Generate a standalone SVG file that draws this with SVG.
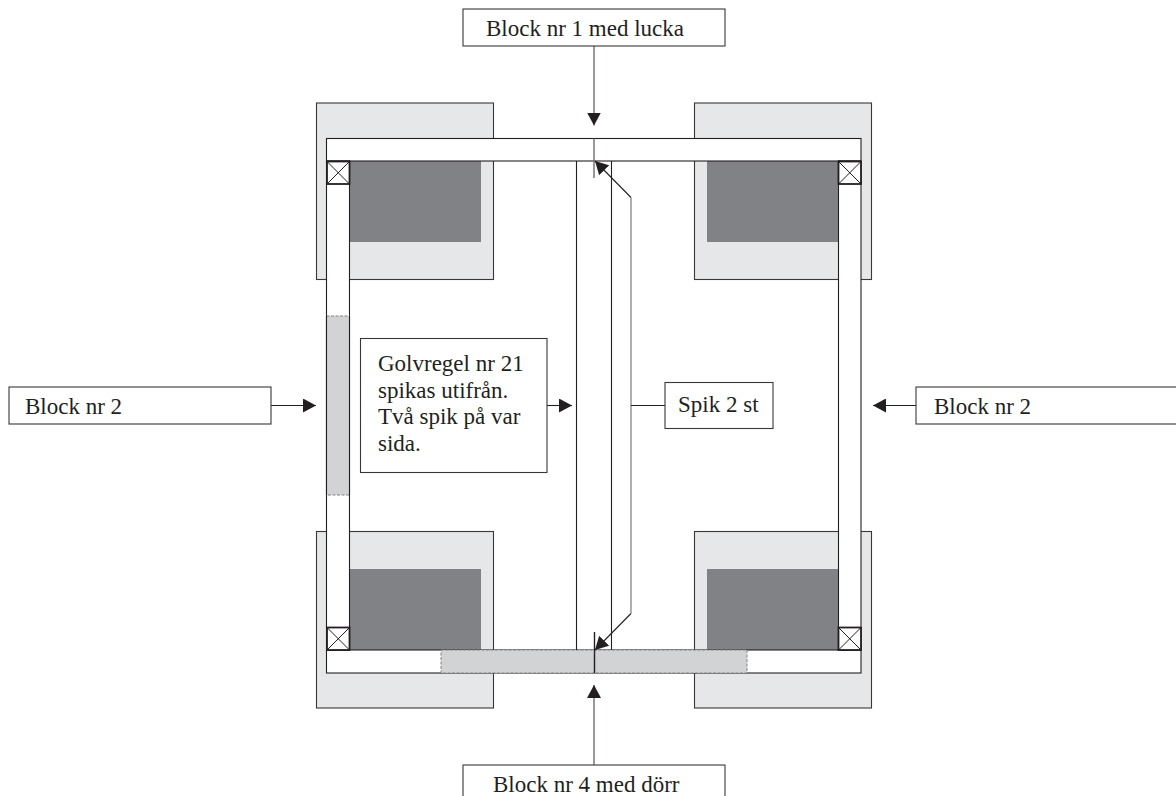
<svg xmlns="http://www.w3.org/2000/svg" width="1176" height="796" viewBox="0 0 1176 796">
<style>
text{font-family:"Liberation Serif","Times New Roman",serif;font-size:23px;fill:#231f20}
.pad{fill:#e6e7e8;stroke:#3a3738;stroke-width:1.1}
.dark{fill:#808285;stroke:none}
.beam{fill:#fff;stroke:#231f20;stroke-width:1.1}
.grey{fill:#d1d3d4;stroke:#808285;stroke-width:1;stroke-dasharray:3 1.5}
.box{fill:#fff;stroke:#3a3738;stroke-width:1.1}
.x{fill:#fff;stroke:#231f20;stroke-width:1.8}
.xl{stroke:#231f20;stroke-width:1;fill:none}
.c{stroke:#231f20;stroke-width:1.1;fill:none}
.cg{stroke:#6d6e71;stroke-width:1.4;fill:none}
.head{fill:#231f20;stroke:none}
</style>
<defs>
<marker id="ah" markerUnits="userSpaceOnUse" markerWidth="14" markerHeight="14" refX="13" refY="7" orient="auto"><path class="head" d="M0 0L13 7L0 14Z"/></marker>
<g id="xbox"><rect class="x" x="0" y="0" width="22.5" height="22.5"/><path class="xl" d="M0 0L22.5 22.5M22.5 0L0 22.5"/></g>
</defs>
<g id="pads">
<rect class="pad" x="316.5" y="103" width="177" height="176.5"/>
<rect class="pad" x="694.5" y="103" width="177" height="176.5"/>
<rect class="pad" x="316.5" y="531.5" width="177" height="176.5"/>
<rect class="pad" x="694.5" y="531.5" width="177" height="176.5"/>
</g>
<g id="darks">
<rect class="dark" x="349" y="161" width="132" height="81"/>
<rect class="dark" x="707" y="161" width="132" height="81"/>
<rect class="dark" x="349" y="569" width="132" height="81"/>
<rect class="dark" x="707" y="569" width="132" height="81"/>
</g>
<g id="frame">
<rect class="beam" x="326.5" y="138.5" width="534.5" height="22.5"/>
<rect class="beam" x="326.5" y="650" width="534.5" height="23"/>
<rect class="beam" x="326.5" y="161" width="23" height="489"/>
<rect class="beam" x="838.5" y="161" width="22.5" height="489"/>
<rect class="grey" x="326.5" y="316" width="23" height="179"/>
<path class="c" d="M326.500 316V495M349.500 316V495"/>
<rect class="grey" x="441" y="650" width="306" height="23"/>
<path class="c" d="M576.500 161V650M611.500 161V650"/>
<use id="x1" href="#xbox" x="327" y="161.500"/>
<use id="x2" href="#xbox" x="838.500" y="161.500"/>
<use id="x3" href="#xbox" x="327" y="627.500"/>
<use id="x4" href="#xbox" x="838.500" y="627.500"/>
</g>
<g id="connectors">
<path class="cg" d="M594 138.500V178"/>
<path class="c" style="stroke-width:1.400" d="M594.500 632V673"/>
<path class="cg" marker-end="url(#ah)" d="M594 46V125.500"/>
<path class="cg" marker-end="url(#ah)" d="M594 765V685"/>
<path class="c" marker-end="url(#ah)" d="M271 405.500H316"/>
<path class="c" marker-end="url(#ah)" d="M916 405.500H873"/>
<path class="c" marker-end="url(#ah)" d="M547 405.500H572"/>
<path class="c" marker-end="url(#ah)" d="M631 197.500L595 161"/>
<path class="c" marker-end="url(#ah)" d="M631 613.500L595 650"/>
<path class="cg" style="stroke-width:1.100" d="M631 197.500V613.500"/>
<path class="c" d="M631 405.500H665"/>
</g>
<g id="n1"><rect class="box" x="463" y="9" width="262" height="37"/><text x="486" y="36">Block nr 1 med lucka</text></g>
<g id="n2"><rect class="box" x="463" y="765" width="262" height="37"/><text x="493" y="791.500">Block nr 4 med dörr</text></g>
<g id="n3"><rect class="box" x="9" y="387" width="262" height="37"/><text x="25" y="414">Block nr 2</text></g>
<g id="n4"><rect class="box" x="916" y="387" width="270" height="37"/><text x="934" y="414">Block nr 2</text></g>
<g id="n5"><rect class="box" x="360.500" y="338.500" width="186.500" height="134"/>
<text x="378" y="371">Golvregel nr 21</text><text x="378" y="398">spikas utifrån.</text><text x="378" y="424">Två spik på var</text><text x="378" y="451">sida.</text></g>
<g id="n6"><rect class="box" x="665" y="382.500" width="108" height="46"/><text x="678" y="412">Spik 2 st</text></g>
</svg>
